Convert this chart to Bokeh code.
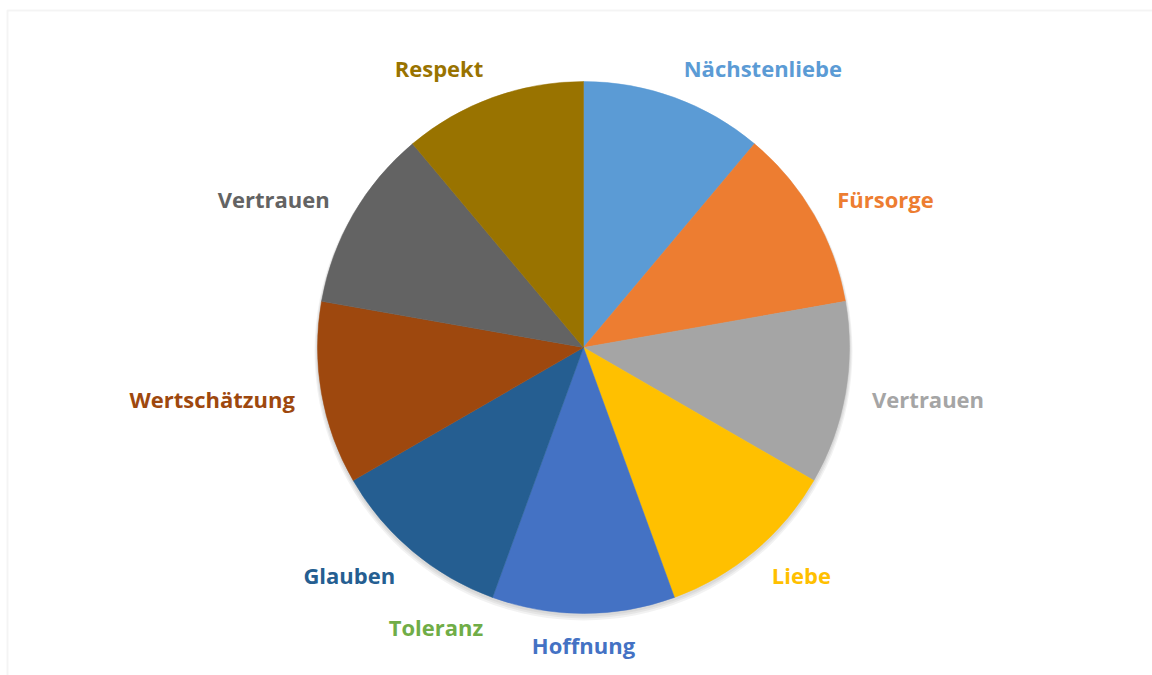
import math
from bokeh.plotting import figure
from bokeh.models import Range1d, ColumnDataSource, BoxAnnotation
from bokeh.core.properties import value
from bokeh.embed import file_html
from bokeh.resources import INLINE

# ---- data ----
categories = ["Nächstenliebe", "Fürsorge", "Vertrauen", "Liebe", "Hoffnung",
              "Toleranz", "Glauben", "Wertschätzung", "Vertrauen", "Respekt"]
values = [1, 1, 1, 1, 1, 0, 1, 1, 1, 1]
colors = ["#5B9BD5", "#ED7D31", "#A5A5A5", "#FFC000", "#4472C4",
          "#70AD47", "#255E91", "#9E480E", "#636363", "#997300"]

W, H = 1152, 675
cx, cy = 583, H - 347
R = 266
label_gap = 24

total = sum(values)
starts, ends, mids = [], [], []
acc = 0.0
for v in values:
    t0 = acc / total * 2 * math.pi
    acc += v
    t1 = acc / total * 2 * math.pi
    starts.append(math.pi / 2 - t1)
    ends.append(math.pi / 2 - t0)
    mids.append((t0 + t1) / 2)

lx, ly, align = [], [], []
for m in mids:
    s, c = math.sin(m), math.cos(m)
    lx.append(cx + (R + label_gap) * s + 3 * s)
    ly.append(cy + (R + label_gap) * c + 7 * c)
    align.append("left" if s > 0.1 else ("right" if s < -0.1 else "center"))

keep = [i for i, v in enumerate(values) if v > 0]
src = ColumnDataSource(dict(cat=[categories[i] for i in keep],
                            val=[values[i] for i in keep],
                            color=[colors[i] for i in keep],
                            start=[starts[i] for i in keep],
                            end=[ends[i] for i in keep]))
lsrc = ColumnDataSource(dict(x=lx, y=ly, text=categories, color=colors,
                             align=align))

p = figure(width=W, height=H, output_backend="svg", toolbar_location=None,
           x_range=Range1d(0, W), y_range=Range1d(0, H),
           min_border=0, background_fill_color="white", border_fill_color="white")
p.axis.visible = False
p.grid.visible = False
p.outline_line_color = None

# chart frame
p.add_layout(BoxAnnotation(left=7, right=W + 20, bottom=-20, top=H - 10,
                           fill_alpha=0, line_color="#D9D9D9", line_width=2))

# soft shadow
for i in range(3):
    p.circle(x=[cx], y=[cy - 2 - i], radius=R + 1 + i, fill_color="black",
             fill_alpha=0.05, line_color=None)

p.wedge(x=cx, y=cy, radius=R, start_angle="start", end_angle="end",
        fill_color="color", line_color="color", line_width=0.5, source=src)

p.text(x="x", y="y", text="text", text_color="color", text_align="align",
       text_baseline="middle", text_font=value("Open Sans"), text_font_style="bold",
       text_font_size="22px", source=lsrc)

open("out.html", "w").write(file_html(p, INLINE))
